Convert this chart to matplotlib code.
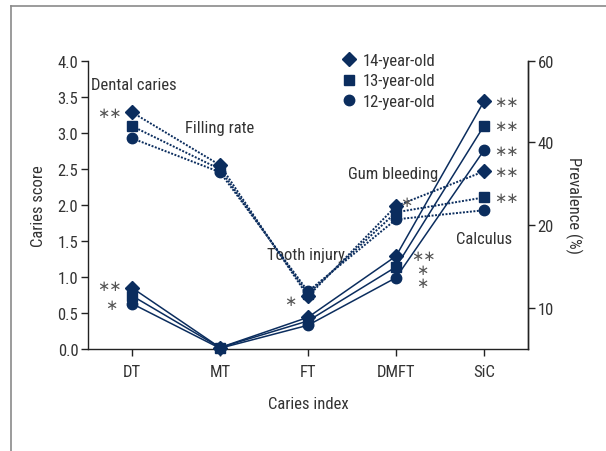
import numpy as np
import matplotlib
matplotlib.use('Agg')
import matplotlib.pyplot as plt
from matplotlib.lines import Line2D
from matplotlib import font_manager as fm

# ---------------- data ----------------
indices = ['DT', 'MT', 'FT', 'DMFT', 'SiC']
groups = ['14-year-old', '13-year-old', '12-year-old']
markers = ['D', 's', 'o']

# caries score (left axis, solid lines)
score_14 = [0.85, 0.02, 0.44, 1.29, 3.44]
score_13 = [0.74, 0.02, 0.39, 1.14, 3.10]
score_12 = [0.63, 0.01, 0.33, 0.99, 2.76]

# prevalence (right axis, dotted lines)
prev_labels = ['Dental caries', 'Filling rate', 'Tooth injury', 'Gum bleeding', 'Calculus']
prev_14 = [47.4, 34.5, 11.4, 24.6, 33.0]
prev_13 = [44.0, 33.5, 11.7, 23.1, 26.7]
prev_12 = [41.0, 32.8, 12.0, 21.4, 23.6]

left_ticks = [0.0, 0.5, 1.0, 1.5, 2.0, 2.5, 3.0, 3.5, 4.0]
right_ticks = [10, 20, 40, 60]

# right axis is drawn with uneven spacing of its ticks
prev_knots = [5, 10, 20, 40, 60]
pos_knots = [0.0, 0.57, 1.72, 2.87, 4.0]

NAVY = '#0b2d5e'
TXT = '#333333'
STAR = '#555555'

available = {f.name for f in fm.fontManager.ttflist}
main_font = 'DejaVu Sans'
for cand in ['Roboto Condensed', 'PT Sans Narrow', 'Fira Sans Condensed',
             'Asap Condensed', 'Archivo Narrow', 'Barlow Semi Condensed']:
    if cand in available:
        main_font = cand
        break
FAM = [main_font, 'DejaVu Sans']
plt.rcParams['font.family'] = FAM
FS = 12

fig = plt.figure(figsize=(6.06, 4.52), dpi=100)
ax = fig.add_axes([88/606, 1-350/452, (528-88)/606, (350-62)/452])
ax2 = ax.twinx()


def fwd(v):
    return np.interp(v, prev_knots, pos_knots)


def inv(v):
    return np.interp(v, pos_knots, prev_knots)


ax2.set_yscale('function', functions=(fwd, inv))

x = np.arange(len(indices))
scores = [score_14, score_13, score_12]
prevs = [prev_14, prev_13, prev_12]
msizes = [7.5, 6.5, 7.5]

for s, m, ms in zip(scores, markers, msizes):
    ax.plot(x, s, color=NAVY, lw=1.1, marker=m, ms=ms, clip_on=False, zorder=3)
for p, m, ms in zip(prevs, markers, msizes):
    ax2.plot(x, p, color=NAVY, lw=1.4, dashes=(1.0, 0.8), marker=m, ms=ms,
             clip_on=False, zorder=3)

ax.set_xlim(-0.5, 4.5)
ax.set_ylim(0, 4)
ax2.set_ylim(5, 60)
ax.set_xticks(x)
ax.set_xticklabels(indices)
ax.set_yticks(left_ticks)
ax.set_yticklabels([f'{t:.1f}' for t in left_ticks])
ax2.set_yticks(right_ticks)
ax2.set_yticklabels([str(t) for t in right_ticks])
ax2.yaxis.set_minor_locator(matplotlib.ticker.NullLocator())

for a in (ax, ax2):
    a.spines['top'].set_visible(False)
    for sp in a.spines.values():
        sp.set_linewidth(1.0)
        sp.set_color('#222222')
    a.tick_params(axis='both', length=5, width=1.0, color='#222222',
                  labelsize=FS, labelcolor=TXT, pad=2)
ax.tick_params(axis='x', pad=6)
ax2.spines['left'].set_visible(False)
ax2.spines['bottom'].set_visible(False)

ax.set_xlabel('Caries index', fontsize=FS, color=TXT, labelpad=12)
ax.set_ylabel('Caries score', fontsize=FS, color=TXT, labelpad=8)
ax2.set_ylabel('Prevalence (%)', fontsize=FS, color=TXT, rotation=-90,
               labelpad=20)

# category labels for the prevalence lines
lab_pos = [(-0.47, 3.68), (0.60, 3.08), (1.53, 1.31), (2.46, 2.44), (3.68, 1.53)]
for t, (xx, yy) in zip(prev_labels, lab_pos):
    ax.text(xx, yy, t, fontsize=FS, color=TXT, ha='left', va='center')

# significance marks
def star(a, xx, yy, s, ha='left'):
    a.text(xx, yy, s, fontsize=10.5, color=STAR, ha=ha, va='center',
           family=['DejaVu Sans'])

st = '\u2217'
star(ax2, -0.12, prev_14[0], st*2, ha='right')
star(ax, -0.12, score_14[0] + 0.03, st*2, ha='right')
star(ax, -0.24, score_12[0] - 0.01, st, ha='center')
star(ax2, 1.80, prev_14[2] - 0.5, st, ha='center')
star(ax2, 3.12, prev_14[3] + 1.0, st, ha='center')
star(ax, 3.17, score_14[3] + 0.01, st*2, ha='left')
star(ax, 3.30, score_13[3] - 0.03, st, ha='center')
star(ax, 3.30, score_12[3] - 0.07, st, ha='center')
for s in scores:
    star(ax, 4.12, s[4], st*2)
for p in prevs[:2]:
    star(ax2, 4.12, p[4], st*2)

# legend
handles = [Line2D([], [], color=NAVY, marker=m, ms=ms, ls='none')
           for m, ms in zip(markers, msizes)]
fig.legend(handles, groups, loc='upper left', bbox_to_anchor=(341/606, 1-54/452),
           frameon=False, fontsize=FS, handlelength=1.0, handletextpad=0.3,
           labelspacing=0.32, borderpad=0, borderaxespad=0, labelcolor=TXT)

# outer frame
fig.add_artist(Line2D([11/606, 11/606], [0, 1-7/452], color='#8a8a8a', lw=1.2,
                      transform=fig.transFigure))
fig.add_artist(Line2D([11/606, 1], [1-7/452, 1-7/452], color='#8a8a8a', lw=1.2,
                      transform=fig.transFigure))

fig.savefig('out.png', dpi=100)
